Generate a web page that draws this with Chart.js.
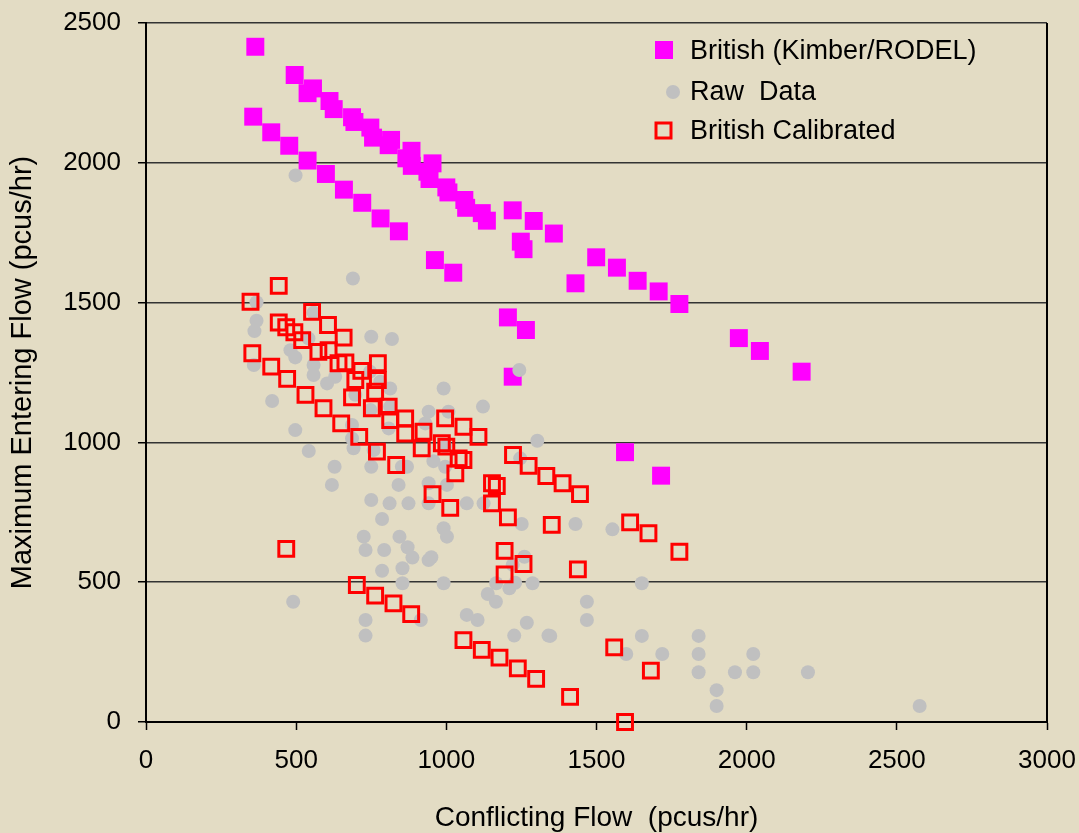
<!DOCTYPE html>
<html>
<head>
<meta charset="utf-8">
<title>Maximum Entering Flow vs Conflicting Flow</title>
<script src="https://cdn.jsdelivr.net/npm/chart.js@4.4.1/dist/chart.umd.min.js"></script>
<style>
    html, body { margin: 0; padding: 0; background: #e3dcc4; }
    #wrap { width: 1079px; height: 833px; position: relative; }
</style>
</head>
<body>
<div id="wrap"><canvas id="flowChart"></canvas></div>
<script>
// Kimber/RODEL capacity predictions
const kimberConflicting = [364, 495, 556, 538, 611, 625, 686, 694, 747, 756, 816, 808, 884, 867, 885, 954, 937, 944,
    1000, 1007, 1060, 1066, 1118, 1135, 1221, 1291, 1358, 1248, 1257,
    357, 417, 477, 538, 599, 659, 720, 781, 842, 962, 1023,
    1430, 1499, 1568, 1637, 1707, 1776, 1974, 2044, 2183,
    1205, 1265, 1221, 1595, 1715];
const kimberEntering = [2415, 2314, 2266, 2249, 2221, 2192, 2163, 2146, 2126, 2090, 2082, 2063, 2043, 2016, 1989, 1998, 1968, 1942,
    1912, 1894, 1867, 1839, 1820, 1793, 1830, 1792, 1747, 1718, 1691,
    2165, 2109, 2061, 2008, 1960, 1904, 1857, 1801, 1755, 1652, 1607,
    1569, 1662, 1625, 1578, 1540, 1495, 1373, 1327, 1253,
    1447, 1402, 1235, 965, 881];

// observed counts
const rawConflicting = [498, 689, 368, 368, 361, 481, 497, 359, 558, 603, 420, 497, 542, 750, 819, 558, 991, 1122, 1243, 1303,
    941, 1007, 941, 1002, 1068, 1124, 869, 750, 628, 619, 750, 811, 874, 841, 786, 691, 813, 957, 996, 1246,
    941, 725, 844, 991, 1002, 1251, 731, 793, 871, 887, 941, 950, 786, 854, 854, 991, 1166, 1210, 1229, 1287,
    1260, 1221, 1138, 1165, 1068, 1104, 1268, 1226, 1340, 490, 731, 731, 915, 1651, 1468, 1468, 1346, 1651, 1840, 1599,
    1719, 1840, 2022, 1840, 1961, 2022, 2204, 1900, 1900, 2576, 1430, 1553, 541, 558, 630, 746, 780, 697, 747, 813,
    686, 686, 808, 930, 996, 758, 852];
const rawEntering = [1955, 1586, 1501, 1435, 1398, 1330, 1304, 1277, 1241, 1211, 1148, 1044, 969, 1378, 1370, 1464, 1193, 1128, 1259, 1006,
    1110, 1110, 854, 848, 782, 782, 913, 913, 913, 848, 794, 782, 782, 848, 726, 979, 1193, 933, 913, 943,
    782, 663, 663, 693, 663, 708, 615, 615, 625, 588, 579, 589, 541, 550, 496, 496, 496, 478, 498, 496,
    591, 562, 458, 430, 383, 365, 355, 309, 309, 430, 365, 309, 365, 496, 430, 365, 308, 308, 308, 243,
    243, 243, 243, 178, 178, 178, 178, 114, 57, 57, 708, 689, 1372, 1277, 1235, 1253, 1217, 1170, 1116, 1128,
    1062, 1014, 1050, 1068, 985, 973, 913];

// calibrated British model
const calConflicting = [442, 348, 553, 606, 658, 442, 467, 494, 520, 574, 608, 641, 664, 772, 717, 772, 697, 686, 763, 752,
    808, 813, 863, 863, 924, 918, 996, 985, 1000, 1057, 1107, 1041, 1057, 1030,
    354, 417, 470, 531, 591, 650, 710, 769, 833, 954, 1013, 1152, 1168, 1152, 1205, 1222, 1274, 1333, 1387, 1445,
    1351, 1438, 1612, 1673, 1776, 467, 702, 763, 824, 883, 1057, 1118, 1177, 1238, 1299, 1194, 1257, 1194,
    1559, 1681, 1412, 1595];
const calEntering = [1560, 1503, 1467, 1420, 1375, 1429, 1412, 1394, 1366, 1324, 1330, 1283, 1286, 1283, 1256, 1223, 1223, 1161, 1181, 1122,
    1128, 1080, 1086, 1032, 1038, 979, 1086, 997, 985, 1056, 1020, 943, 937, 889,
    1319, 1271, 1227, 1170, 1122, 1068, 1020, 967, 919, 815, 766, 854, 844, 782, 732, 955, 916, 880, 854, 815,
    705, 546, 714, 675, 609, 619, 490, 452, 424, 386, 293, 258, 230, 192, 154, 612, 565, 528,
    267, 184, 90, 0];

const xTicks = [0, 500, 1000, 1500, 2000, 2500, 3000];
const yTicks = [0, 500, 1000, 1500, 2000, 2500];

const BG = '#e3dcc4';
const FONT = '"Liberation Sans", Arial, sans-serif';

function toPoints(xs, ys) {
    return xs.map((x, i) => ({ x: x, y: ys[i] }));
}

// paint the beige page behind everything
const backdrop = {
    id: 'backdrop',
    beforeDraw(chart) {
        const ctx = chart.ctx;
        ctx.save();
        ctx.fillStyle = BG;
        ctx.fillRect(0, 0, chart.width, chart.height);
        ctx.restore();
    },
    afterDraw(chart) {
        // right edge of the plot frame
        const a = chart.chartArea;
        const ctx = chart.ctx;
        ctx.save();
        ctx.strokeStyle = '#000';
        ctx.lineWidth = 2;
        ctx.beginPath();
        ctx.moveTo(a.right, a.top);
        ctx.lineTo(a.right, a.bottom);
        ctx.stroke();
        ctx.restore();
    }
};

// legend box sitting inside the plot, top right
const insideLegend = {
    id: 'insideLegend',
    afterDraw(chart) {
        const ctx = chart.ctx;
        const ys = [50, 91, 130];
        ctx.save();
        ctx.font = '27px ' + FONT;
        ctx.textBaseline = 'middle';
        chart.data.datasets.forEach((ds, i) => {
            const y = ys[i];
            if (ds.pointStyle === 'circle') {
                ctx.fillStyle = ds.backgroundColor;
                ctx.beginPath();
                ctx.arc(673, y + 1, 7, 0, Math.PI * 2);
                ctx.fill();
            } else if (ds.backgroundColor === 'transparent') {
                ctx.strokeStyle = ds.borderColor;
                ctx.lineWidth = 3;
                ctx.strokeRect(656, y - 7, 15, 15);
            } else {
                ctx.fillStyle = ds.backgroundColor;
                ctx.fillRect(655, y - 9, 18, 18);
            }
            ctx.fillStyle = '#000';
            ctx.fillText(ds.label, 690, y + 2);
        });
        ctx.restore();
    }
};

// plain integers, no thousands separator
const plainTick = v => String(v);

new Chart(document.getElementById('flowChart'), {
    type: 'scatter',
    data: {
        datasets: [
            {
                label: 'British (Kimber/RODEL)',
                data: toPoints(kimberConflicting, kimberEntering),
                pointStyle: 'rect',
                pointRadius: 12.7,
                backgroundColor: '#ff00ff',
                borderColor: '#ff00ff',
                borderWidth: 0,
                order: 3,
                clip: false
            },
            {
                label: 'Raw  Data',
                data: toPoints(rawConflicting, rawEntering),
                pointStyle: 'circle',
                pointRadius: 7,
                backgroundColor: '#c0c0c0',
                borderColor: '#c0c0c0',
                borderWidth: 0,
                order: 2,
                clip: false
            },
            {
                label: 'British Calibrated',
                data: toPoints(calConflicting, calEntering),
                pointStyle: 'rect',
                pointRadius: 10.5,
                backgroundColor: 'transparent',
                borderColor: '#ff0000',
                borderWidth: 3,
                order: 1,
                clip: false
            }
        ]
    },
    options: {
        responsive: true,
        maintainAspectRatio: false,
        animation: false,
        events: [],
        layout: { padding: { top: 23, right: 32, left: 0, bottom: 0 } },
        plugins: {
            legend: { display: false },
            tooltip: { enabled: false }
        },
        scales: {
            x: {
                type: 'linear',
                min: 0,
                max: 3000,
                afterBuildTicks: s => { s.ticks = xTicks.map(v => ({ value: v })); },
                afterFit: s => { s.height = 111; s.paddingLeft = 0; s.paddingRight = 0; },
                grid: { drawOnChartArea: false, drawTicks: true, tickLength: 8, tickColor: '#000', tickWidth: 1.5 },
                border: { color: '#000', width: 2 },
                ticks: { color: '#000', font: { family: FONT, size: 26 }, padding: 15, maxRotation: 0, callback: plainTick },
                title: {
                    display: true,
                    text: 'Conflicting Flow  (pcus/hr)',
                    color: '#000',
                    font: { family: FONT, size: 28, lineHeight: 1 },
                    padding: { top: 0, bottom: 1 }
                }
            },
            y: {
                type: 'linear',
                min: 0,
                max: 2500,
                afterBuildTicks: s => { s.ticks = yTicks.map(v => ({ value: v })); },
                afterFit: s => { s.width = 146; s.paddingTop = 0; s.paddingBottom = 0; },
                grid: { color: '#333', lineWidth: 1.5, tickLength: 8, tickColor: '#000', tickWidth: 1.5 },
                border: { color: '#000', width: 2 },
                ticks: { color: '#000', font: { family: FONT, size: 26 }, padding: 17, callback: plainTick },
                title: {
                    display: true,
                    text: 'Maximum Entering Flow (pcus/hr)',
                    color: '#000',
                    font: { family: FONT, size: 29, lineHeight: 1.2 },
                    padding: { top: 6, bottom: 0 }
                }
            }
        }
    },
    plugins: [backdrop, insideLegend]
});
</script>
</body>
</html>
